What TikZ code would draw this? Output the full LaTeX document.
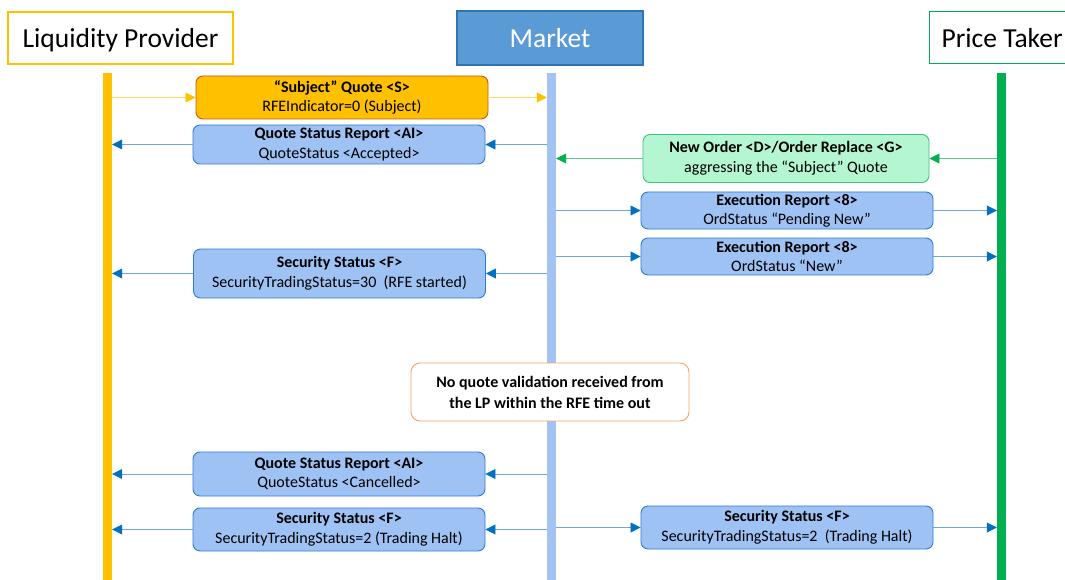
\documentclass[tikz,border=0pt]{standalone}
\usepackage{fontspec}
\setmainfont{Carlito}
\usetikzlibrary{arrows.meta}

\definecolor{lpyellow}{HTML}{FFC000}
\definecolor{lpline}{HTML}{FFD966}
\definecolor{subjborder}{HTML}{C55A11}
\definecolor{mkhead}{HTML}{5B9BD5}
\definecolor{mkheadborder}{HTML}{2E75B6}
\definecolor{mklife}{HTML}{A3C4F3}
\definecolor{msgfill}{HTML}{9FC2F4}
\definecolor{msgborder}{HTML}{2E7BD0}
\definecolor{msgline}{HTML}{6FA6DE}
\definecolor{msgtip}{HTML}{0070C0}
\definecolor{ptgreen}{HTML}{00B050}
\definecolor{grfill}{HTML}{B5F6D2}
\definecolor{grborder}{HTML}{3DC47A}
\definecolor{grline}{HTML}{5CCB8C}
\definecolor{noteborder}{HTML}{F4A46A}

\tikzset{
  header/.style={draw, line width=1.2pt, minimum height=52pt, inner sep=0pt,
    text depth=0pt, font=\fontsize{27.5}{30}\selectfont},
  lifeline/.style={minimum width=9pt, inner sep=0pt, draw=none},
  msgbox/.style={draw=msgborder, fill=msgfill, line width=0.9pt, rounded corners=7pt,
    minimum width=292pt, inner sep=0pt, align=center,
    font=\fontsize{16}{19.5}\selectfont},
  subjbox/.style={msgbox, draw=subjborder, fill=lpyellow},
  greenbox/.style={msgbox, draw=grborder, fill=grfill, minimum width=286pt},
  notebox/.style={draw=noteborder, fill=white, line width=0.9pt, rounded corners=9pt,
    minimum width=278pt, minimum height=58pt, inner sep=0pt, align=center,
    font=\bfseries\fontsize{16}{21}\selectfont},
  bluemsg/.style={draw=msgline, line width=0.8pt,
    -{Triangle[length=10pt,width=10pt,color=msgtip]}},
  yellowmsg/.style={draw=lpline, line width=0.8pt,
    -{Triangle[length=10pt,width=10pt,color=lpyellow]}},
  greenmsg/.style={draw=grline, line width=0.8pt,
    -{Triangle[length=10pt,width=10pt,color=ptgreen]}},
}

\begin{document}
\begin{tikzpicture}[x=1pt,y=-1pt]
\useasboundingbox (0,0) rectangle (1065,580);

% participants
\node[header, draw=lpyellow, fill=white, minimum width=225pt] (lp) at (120.5,38) {Liquidity Provider};
\node[header, draw=mkheadborder, fill=mkhead, text=white, minimum width=186pt, minimum height=54pt] (mk) at (550,38) {Market};
\node[header, draw=ptgreen, fill=white, anchor=west, inner xsep=12pt] (pt) at (929,37.5) {Price Taker};

% lifelines
\node[lifeline, fill=lpyellow, minimum height=507pt, anchor=north] (lpL) at (107.5,73) {};
\node[lifeline, fill=mklife, minimum height=507pt, anchor=north] (mkL) at (551.5,73) {};
\node[lifeline, fill=ptgreen, minimum height=507pt, anchor=north] (ptL) at (1001.5,73) {};

% "Subject" quote from the liquidity provider
\node[subjbox, minimum height=43pt] (sq) at (342,97.5)
  {\textbf{“Subject” Quote <S>}\\RFEIndicator=0 (Subject)};
\draw[yellowmsg] (lpL.east |- sq.west) -- (sq.west);
\draw[yellowmsg] (sq.east) -- (mkL.west |- sq.east);

% quote accepted
\node[msgbox, minimum height=39pt] (qa) at (339,144.5)
  {\textbf{Quote Status Report <AI>}\\QuoteStatus <Accepted>};
\draw[bluemsg] (mkL.west |- qa.east) -- (qa.east);
\draw[bluemsg] (qa.west) -- (lpL.east |- qa.west);

% order from the price taker
\node[greenbox, minimum height=48pt] (no) at (786,158.5)
  {\textbf{New Order <D>/Order Replace <G>}\\aggressing the “Subject” Quote};
\draw[greenmsg] (ptL.west |- no.east) -- (no.east);
\draw[greenmsg] (no.west) -- (mkL.east |- no.west);

% execution reports
\node[msgbox, minimum height=37pt] (er1) at (787,210.5)
  {\textbf{Execution Report <8>}\\OrdStatus “Pending New”};
\draw[bluemsg] (mkL.east |- er1.west) -- (er1.west);
\draw[bluemsg] (er1.east) -- (ptL.west |- er1.east);

\node[msgbox, minimum height=37pt] (er2) at (787,256.5)
  {\textbf{Execution Report <8>}\\OrdStatus “New”};
\draw[bluemsg] (mkL.east |- er2.west) -- (er2.west);
\draw[bluemsg] (er2.east) -- (ptL.west |- er2.east);

% RFE started
\node[msgbox, minimum height=49pt] (ss1) at (339.5,273.5)
  {\textbf{Security Status <F>}\\SecurityTradingStatus=30~ (RFE started)};
\draw[bluemsg] (mkL.west |- ss1.east) -- (ss1.east);
\draw[bluemsg] (ss1.west) -- (lpL.east |- ss1.west);

% timeout note
\node[notebox] (note) at (550,392)
  {No quote validation received from\\the LP within the RFE time out};

% quote cancelled
\node[msgbox, minimum height=44pt] (qc) at (339,474)
  {\textbf{Quote Status Report <AI>}\\QuoteStatus <Cancelled>};
\draw[bluemsg] (mkL.west |- qc.east) -- (qc.east);
\draw[bluemsg] (qc.west) -- (lpL.east |- qc.west);

% trading halt
\node[msgbox, minimum height=43pt] (ss2) at (339,529.5)
  {\textbf{Security Status <F>}\\SecurityTradingStatus=2 (Trading Halt)};
\draw[bluemsg] (mkL.west |- ss2.east) -- (ss2.east);
\draw[bluemsg] (ss2.west) -- (lpL.east |- ss2.west);

\node[msgbox, minimum height=43pt] (ss3) at (787,527.5)
  {\textbf{Security Status <F>}\\SecurityTradingStatus=2~ (Trading Halt)};
\draw[bluemsg] (mkL.east |- ss3.west) -- (ss3.west);
\draw[bluemsg] (ss3.east) -- (ptL.west |- ss3.east);
\end{tikzpicture}
\end{document}
